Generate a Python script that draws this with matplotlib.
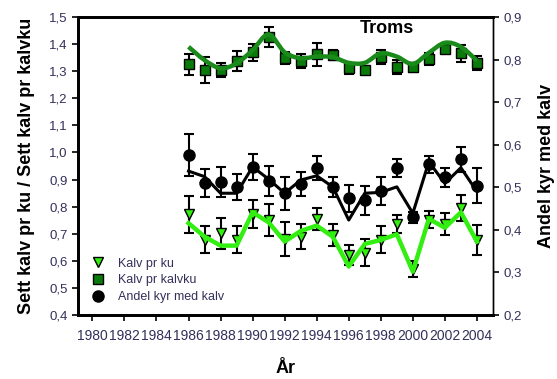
import matplotlib
matplotlib.use("Agg")
import matplotlib.pyplot as plt
import numpy as np
from matplotlib.lines import Line2D
from matplotlib.path import Path
from matplotlib.patches import PathPatch
from matplotlib.ticker import FuncFormatter

plt.rcParams["font.family"] = ["Liberation Sans", "DejaVu Sans"]

years = list(range(1986, 2005))

# Kalv pr kalvku (left axis)
kalvku = [1.325, 1.304, 1.304, 1.338, 1.370, 1.427, 1.348, 1.338, 1.362, 1.360,
          1.311, 1.304, 1.354, 1.317, 1.314, 1.344, 1.381, 1.366, 1.329]
kalvku_err = [0.038, 0.047, 0.026, 0.037, 0.031, 0.036, 0.023, 0.025, 0.041, 0.020,
              0.021, 0.016, 0.026, 0.026, 0.016, 0.022, 0.015, 0.031, 0.026]
kalvku_fit = [1.390, 1.341, 1.311, 1.329, 1.378, 1.436, 1.370, 1.348, 1.354, 1.352,
              1.331, 1.331, 1.366, 1.354, 1.327, 1.368, 1.405, 1.390, 1.339]

# Kalv pr ku (left axis)
ku = [0.772, 0.677, 0.702, 0.677, 0.772, 0.751, 0.681, 0.689, 0.755, 0.696,
      0.622, 0.630, 0.677, 0.735, 0.570, 0.751, 0.735, 0.794, 0.677]
ku_err = [0.069, 0.050, 0.057, 0.050, 0.052, 0.058, 0.064, 0.046, 0.040, 0.040,
          0.037, 0.049, 0.050, 0.033, 0.029, 0.031, 0.040, 0.048, 0.054]
ku_fit = [0.739, 0.689, 0.656, 0.656, 0.779, 0.742, 0.671, 0.710, 0.730, 0.689,
          0.579, 0.662, 0.677, 0.698, 0.560, 0.755, 0.722, 0.779, 0.671]

# Andel kyr med kalv (right axis)
andel = [0.576, 0.509, 0.513, 0.501, 0.548, 0.515, 0.486, 0.508, 0.545, 0.501,
         0.474, 0.470, 0.491, 0.545, 0.429, 0.554, 0.523, 0.566, 0.504]
andel_err = [0.049, 0.033, 0.035, 0.031, 0.031, 0.036, 0.039, 0.029, 0.029, 0.023,
             0.031, 0.034, 0.032, 0.021, 0.013, 0.020, 0.023, 0.029, 0.041]
andel_fit = [0.538, 0.525, 0.486, 0.486, 0.548, 0.519, 0.486, 0.517, 0.527, 0.501,
             0.423, 0.486, 0.488, 0.501, 0.439, 0.560, 0.509, 0.546, 0.490]

xticks = list(range(1980, 2005, 2))
lab_color = "#33305a"


def smooth_path(x, y):
    # Catmull-Rom through the points, drawn as cubic bezier segments
    pts = np.column_stack([x, y]).astype(float)
    verts = [pts[0]]
    codes = [Path.MOVETO]
    n = len(pts)
    for i in range(n - 1):
        p0 = pts[max(i - 1, 0)]
        p1 = pts[i]
        p2 = pts[i + 1]
        p3 = pts[min(i + 2, n - 1)]
        verts += [p1 + (p2 - p0) / 6, p2 - (p3 - p1) / 6, p2]
        codes += [Path.CURVE4] * 3
    return Path(verts, codes)


fig = plt.figure(figsize=(5.57, 3.79), dpi=100)
ax = fig.add_axes([0.140, 0.169, 0.745, 0.786])
ax2 = ax.twinx()

ax.errorbar(years, kalvku, yerr=kalvku_err, fmt="s", color="black", mfc="#0a7a0a",
            mec="black", ms=7, elinewidth=1.5, capsize=3.5, capthick=1.5, zorder=3)
ax.add_patch(PathPatch(smooth_path(years, kalvku_fit), fill=False, ec="#1a8a1a",
                       lw=3.2, zorder=4))

ax.errorbar(years, ku, yerr=ku_err, fmt="v", color="black", mfc="#33ee11",
            mec="black", ms=7.5, elinewidth=1.5, capsize=3.5, capthick=1.5, zorder=3)
ax.plot(years, ku_fit, color="#33ee11", lw=3.2, zorder=4)

ax2.errorbar(years, andel, yerr=andel_err, fmt="o", color="black", mfc="black",
             ms=8, elinewidth=1.5, capsize=3.5, capthick=1.5, zorder=3)
ax2.plot(years, andel_fit, color="black", lw=2.2, zorder=4)

ax.set_xlim(1979.1, 2005.0)
ax.set_ylim(0.4, 1.5)
ax2.set_ylim(0.2, 0.9)
ax.set_xticks(xticks)
ax.set_xticklabels([str(y) for y in xticks])
ax.set_yticks(np.arange(0.4, 1.51, 0.1))
ax2.set_yticks(np.arange(0.2, 0.91, 0.1))
comma = FuncFormatter(lambda v, p: f"{v:.1f}".replace(".", ","))
ax.yaxis.set_major_formatter(comma)
ax2.yaxis.set_major_formatter(comma)

for a in (ax, ax2):
    a.tick_params(direction="out", length=4, width=1.2, labelsize=9.5, labelcolor=lab_color)
    a.spines["left"].set_linewidth(2)
    a.spines["bottom"].set_linewidth(2)
    a.spines["top"].set_linewidth(2)
    a.spines["right"].set_linewidth(1)
ax.tick_params(axis="x", pad=6, labelsize=10)

ax.set_ylabel("Sett kalv pr ku / Sett kalv pr kalvku", fontsize=13, fontweight="bold",
              labelpad=10)
ax2.set_ylabel("Andel kyr med kalv", fontsize=13, fontweight="bold", labelpad=12)
ax.set_xlabel("År", fontsize=13, fontweight="bold", labelpad=12)

ax.text(1998.4, 1.456, "Troms", fontsize=13, fontweight="bold", ha="center", va="center")

handles = [
    Line2D([], [], ls="", marker="v", mfc="#33ee11", mec="black", ms=7.5),
    Line2D([], [], ls="", marker="s", mfc="#0a7a0a", mec="black", ms=7),
    Line2D([], [], ls="", marker="o", mfc="black", mec="black", ms=8),
]
leg = ax2.legend(handles, ["Kalv pr ku", "Kalv pr kalvku", "Andel kyr med kalv"],
                 loc="lower left", bbox_to_anchor=(0.026, 0.04), frameon=False,
                 fontsize=9, labelspacing=0.38, handletextpad=0.82, handlelength=1.5,
                 borderpad=0, borderaxespad=0)
for t in leg.get_texts():
    t.set_color(lab_color)

fig.savefig("out.png", dpi=100)
